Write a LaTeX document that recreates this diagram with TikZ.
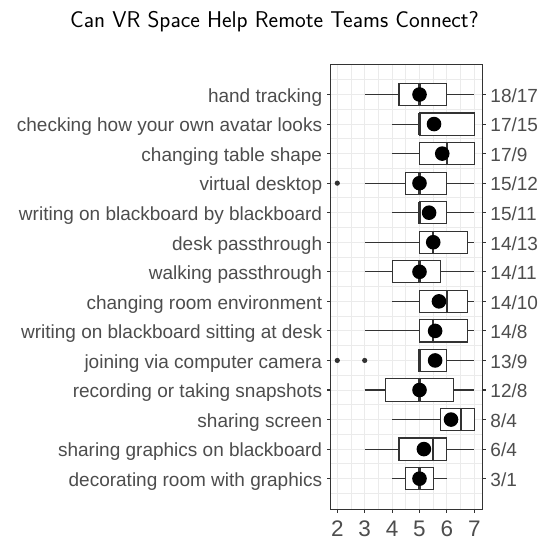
\documentclass[tikz,border=0pt]{standalone}
\usepackage{fontspec}
\newfontfamily\labfont{Liberation Sans}
\definecolor{axtext}{HTML}{4D4D4D}
\definecolor{gridc}{HTML}{EBEBEB}
\definecolor{boxc}{HTML}{333333}
\tikzset{
  gridline/.style={draw=gridc, line width=0.9pt},
  whisk/.style={draw=boxc, line width=1.1pt},
  boxst/.style={draw=boxc, fill=white, line width=1.1pt},
  medst/.style={draw=boxc, line width=2.2pt},
  meandot/.style={fill=black},
  outl/.style={fill=boxc},
  tickst/.style={draw=boxc, line width=1.1pt},
  frame/.style={draw=boxc, line width=1.3pt},
  ylab/.style={font=\labfont\fontsize{19}{22}\selectfont, text=axtext, anchor=base east, inner sep=0pt},
  rlab/.style={font=\labfont\fontsize{19}{22}\selectfont, text=axtext, anchor=base west, inner sep=0pt},
  xlab/.style={font=\labfont\fontsize{22.5}{26}\selectfont, text=axtext, anchor=base, inner sep=0pt},
  titlest/.style={font=\sffamily\fontsize{22.8}{26}\selectfont, anchor=base, inner sep=0pt}
}
\newcommand\bxp[7]{%
  \draw[whisk] (#2,#1) -- (#3,#1) (#5,#1) -- (#6,#1);
  \draw[boxst] (#3,#1-0.375) rectangle (#5,#1+0.375);
  \draw[medst] (#4,#1-0.375) -- (#4,#1+0.375);
  \fill[meandot] (#7,#1) circle[radius=7.3pt];
}
\begin{document}
\begin{tikzpicture}[x=1pt,y=-1pt]
\useasboundingbox[fill=white] (0,0) rectangle (540,541);
\node[titlest] (title) at (274.5,27) {Can VR Space Help Remote Teams Connect?};
\begin{scope}[shift={(282.5pt,-64.95pt)}, x=27.4pt, y=-29.55pt]
  % panel
  \fill[white] (1.745,-0.01) rectangle (7.29,15.05);
  \foreach \v in {2,2.5,...,7} \draw[gridline] (\v,-0.01) -- (\v,15.05);
  \foreach \r in {0.5,1,...,14.5} \draw[gridline] (1.745,\r) -- (7.29,\r);
  % boxplots
  \bxp{1}{3}{4.25}{5}{6}{7}{5}
  \bxp{2}{4}{5}{5}{7}{7}{5.53}
  \bxp{3}{4}{5}{6}{7}{7}{5.83}
  \bxp{4}{3}{4.5}{5}{6}{7}{5}
  \bxp{5}{4}{5}{5}{6}{7}{5.35}
  \bxp{6}{3}{5}{5.5}{6.75}{7}{5.5}
  \bxp{7}{3}{4}{5}{5.75}{7}{5}
  \bxp{8}{4}{5}{6}{6.75}{7}{5.71}
  \bxp{9}{3}{5}{5.5}{6.75}{7}{5.57}
  \bxp{10}{5}{5}{5}{6}{7}{5.57}
  \bxp{11}{3}{3.75}{5}{6.25}{7}{5}
  \bxp{12}{4}{5.75}{6.5}{7}{7}{6.15}
  \bxp{13}{3}{4.25}{5.5}{6}{7}{5.16}
  \bxp{14}{4}{4.5}{5}{5.5}{6}{5}
  % outliers
  \fill[outl] (2,4) circle[radius=2.6pt];
  \fill[outl] (2,10) circle[radius=2.6pt];
  \fill[outl] (3,10) circle[radius=2.6pt];
  % frame
  \draw[frame] (1.745,-0.01) rectangle (7.29,15.05);
  % ticks and anchors
  \foreach \r in {1,...,14} {
    \draw[tickst] (1.745,\r) -- ++(-3.5pt,0);
    \draw[tickst] (7.29,\r) -- ++(3.5pt,0);
    \coordinate (L\r) at (1.745,\r);
    \coordinate (R\r) at (7.29,\r);
  }
  \foreach \v in {2,...,7} {
    \draw[tickst] (\v,15.05) -- ++(0,-3.5pt);
    \coordinate (B\v) at (\v,15.05);
  }
\end{scope}
% left labels
\foreach \r/\t in {1/hand tracking, 2/checking how your own avatar looks, 3/changing table shape, 4/virtual desktop, 5/writing on blackboard by blackboard, 6/desk passthrough, 7/walking passthrough, 8/changing room environment, 9/writing on blackboard sitting at desk, 10/joining via computer camera, 11/recording or taking snapshots, 12/sharing screen, 13/sharing graphics on blackboard, 14/decorating room with graphics}
  \node[ylab] (yl\r) at ([xshift=-8pt,yshift=-7.8pt]L\r) {\t};
\foreach \r/\t in {1/18\slash 17, 2/17\slash 15, 3/17\slash 9, 4/15\slash 12, 5/15\slash 11, 6/14\slash 13, 7/14\slash 11, 8/14\slash 10, 9/14\slash 8, 10/13\slash 9, 11/12\slash 8, 12/8\slash 4, 13/6\slash 4, 14/3\slash 1}
  \node[rlab] (rl\r) at ([xshift=8pt,yshift=-7.8pt]R\r) {\t};
\foreach \v in {2,...,7}
  \node[xlab] (xl\v) at ([yshift=-27pt]B\v) {\v};
\end{tikzpicture}
\end{document}
